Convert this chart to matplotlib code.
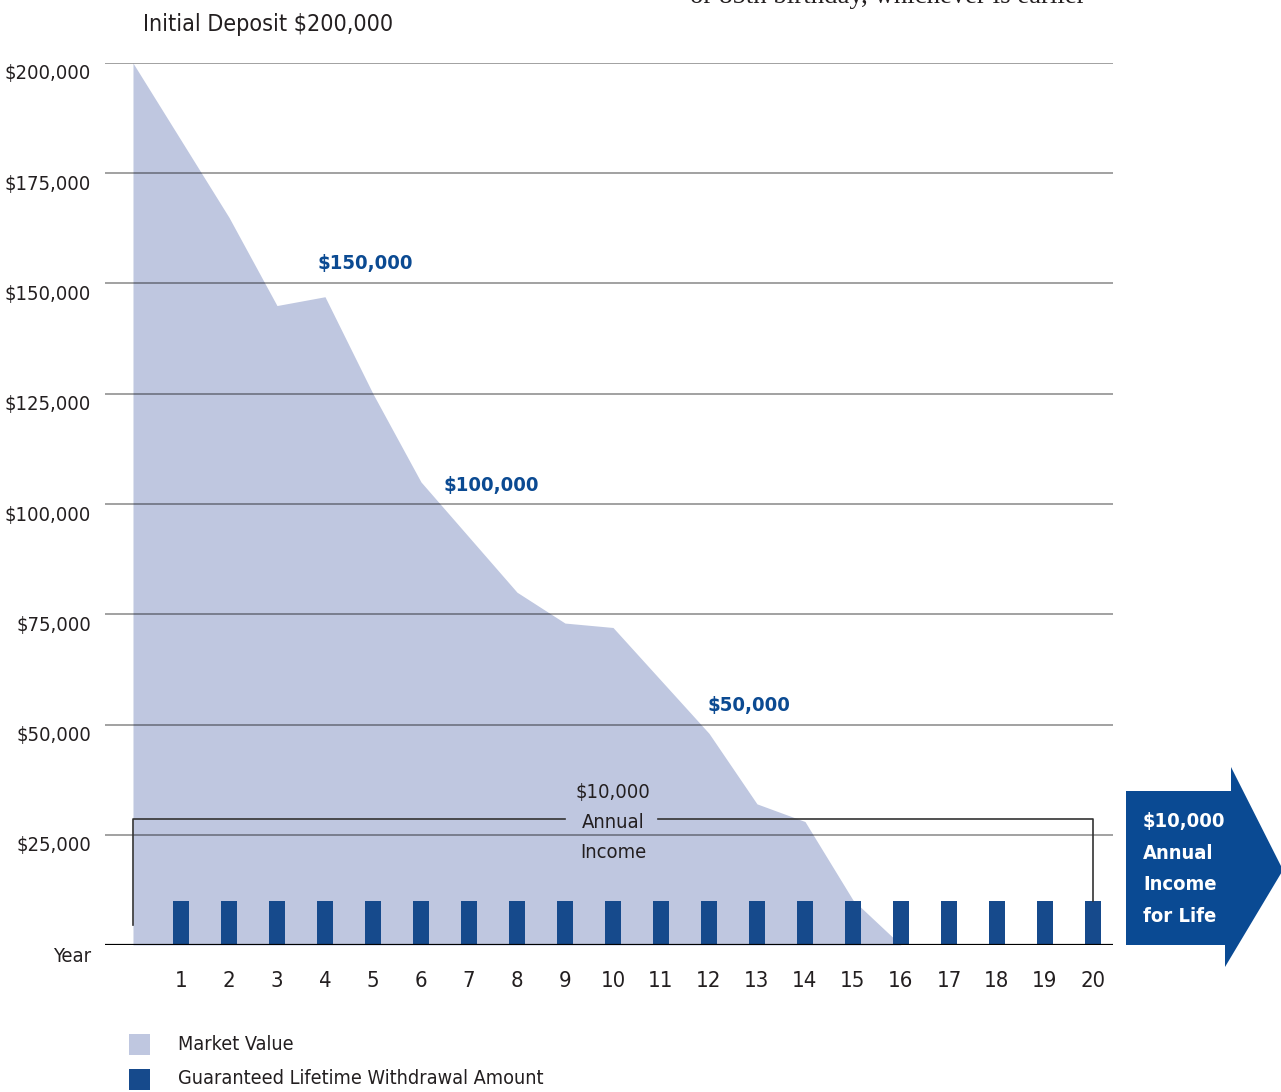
import matplotlib.pyplot as plt
from matplotlib import font_manager as fm
from matplotlib.patches import Polygon, Rectangle
from matplotlib.transforms import ScaledTranslation

# data
years = list(range(0, 17))
market_value = [200000, 182500, 165000, 145000, 147000, 125000, 105000, 92500,
                80000, 73000, 72000, 60000, 48000, 32000, 28000, 10200, 0]
glwa_years = list(range(1, 21))
glwa = [10000] * 20
ytick_vals = [0, 25000, 50000, 75000, 100000, 125000, 150000, 175000, 200000]
ytick_labels = ['Year', '$25,000', '$50,000', '$75,000', '$100,000',
                '$125,000', '$150,000', '$175,000', '$200,000']
callout_labels = ['$150,000', '$100,000', '$50,000']
bracket_value = 28500

W, H = 1281, 1092
AREA = '#bfc7e0'
BAR = '#164a8c'
BLUE = '#0b4a92'
TXT = '#231f20'

# reference uses a condensed face; use DejaVu Sans Condensed if it is there
plt.rcParams['font.family'] = ['DejaVu Sans']
plt.rcParams['font.stretch'] = 'condensed'
found = fm.findfont(fm.FontProperties(family='DejaVu Sans', stretch='condensed'))
k = 1.0 if 'Condensed' in found else 0.89

fig = plt.figure(figsize=(W / 100, H / 100), dpi=100)
ax = fig.add_axes([105 / W, 1 - 945 / H, (1113 - 105) / W, (945 - 63) / H])

ax.fill_between(years, market_value, 0, color=AREA, lw=0, zorder=1)
for v in ytick_vals[1:]:
    ax.axhline(v, color='black', alpha=0.4, lw=1.3, zorder=2)
ax.bar(glwa_years, glwa, width=0.32, color=BAR, zorder=3)
ax.axhline(0, color='black', lw=1.6, zorder=4)

ax.set_xlim(-0.583, 20.417)
ax.set_ylim(0, 200000)
for s in ax.spines.values():
    s.set_visible(False)

fs = 14.5 * k
ax.set_xticks(glwa_years)
ax.set_xticklabels([str(y) for y in glwa_years], fontsize=15.8 * k, color=TXT)
ax.set_yticks(ytick_vals)
ax.set_yticklabels(ytick_labels, fontsize=fs, color=TXT)
ax.tick_params(length=0)
ax.tick_params(axis='x', pad=19)
ax.tick_params(axis='y', pad=10)
for lab in ax.get_yticklabels():
    lab.set_transform(lab.get_transform() + ScaledTranslation(0, -9 / 100, fig.dpi_scale_trans))

# value callouts
cfs = 14.6 * k
ax.text(3.85, 154500, callout_labels[0], color=BLUE, fontsize=cfs, fontweight='bold', va='center')
ax.text(6.46, 104300, callout_labels[1], color=BLUE, fontsize=cfs, fontweight='bold', va='center')
ax.text(11.96, 54200, callout_labels[2], color=BLUE, fontsize=cfs, fontweight='bold', va='center')

# bracket
ax.plot([0, 0, 9.0], [4500, bracket_value, bracket_value], color='#333333', lw=1.2, zorder=5)
ax.plot([10.94, 20, 20], [bracket_value, bracket_value, 10000], color='#333333', lw=1.2, zorder=5)
ax.text(10, bracket_value - 700, '$10,000\nAnnual\nIncome', ha='center', va='center',
        fontsize=fs, color=TXT, linespacing=1.72, zorder=6)

# arrow on the right
pts = [(1126, 791), (1231, 791), (1231, 767), (1283, 870), (1225, 967), (1225, 945), (1126, 945)]
fig.add_artist(Polygon([(x / W, 1 - y / H) for x, y in pts], closed=True,
                       transform=fig.transFigure, color='#0a4a93', lw=0))
fig.text(1143 / W, 1 - 869 / H, '$10,000\nAnnual\nIncome\nfor Life', color='white',
         fontsize=14.5 * k, fontweight='bold', va='center', ha='left', linespacing=1.85)

# titles
fig.text(143 / W, 1 - 25 / H, 'Initial Deposit $200,000', fontsize=16.7 * k, color=TXT, va='center')
fig.text(690 / W, 1 - 3 / H, 'or 85th birthday, whichever is earlier', fontsize=19.3,
         family='Liberation Serif', stretch='normal', color=TXT, va='baseline')

# legend
fig.add_artist(Rectangle((129 / W, 1 - 1055 / H), 21 / W, 21 / H, transform=fig.transFigure, color=AREA, lw=0))
fig.add_artist(Rectangle((129 / W, 1 - 1090 / H), 21 / W, 21 / H, transform=fig.transFigure, color=BAR, lw=0))
fig.text(178 / W, 1 - 1044 / H, 'Market Value', fontsize=14.2 * k, color=TXT, va='center')
fig.text(178 / W, 1 - 1078 / H, 'Guaranteed Lifetime Withdrawal Amount', fontsize=14.2 * k, color=TXT, va='center')

fig.savefig('out.png', dpi=100)
